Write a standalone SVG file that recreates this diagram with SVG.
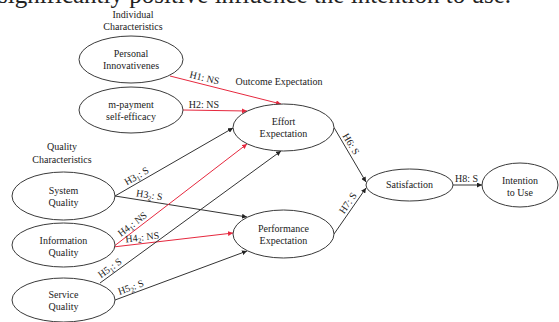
<svg xmlns="http://www.w3.org/2000/svg" width="559" height="322" viewBox="0 0 559 322">
  <style>
    text { font-family: "Liberation Serif", "Times New Roman", serif; fill: #222; }
    .node ellipse { fill: #fff; stroke: #3a3a3a; stroke-width: 1; }
    .node text { font-size: 10px; text-anchor: middle; }
    .head { font-size: 10px; text-anchor: middle; }
    .lbl { font-size: 10px; text-anchor: middle; }
    .sub { font-size: 7px; }
    .k { stroke: #333; stroke-width: 1; fill: none; marker-end: url(#arrK); }
    .r { stroke: #e6283e; stroke-width: 1; fill: none; marker-end: url(#arrR); }
    .top { font-size: 25px; }
  </style>
  <defs>
    <marker id="arrK" markerUnits="userSpaceOnUse" markerWidth="6" markerHeight="5" refX="5" refY="2.5" orient="auto">
      <path d="M0,0 L5,2.5 L0,5 z" fill="#222"/>
    </marker>
    <marker id="arrR" markerUnits="userSpaceOnUse" markerWidth="6" markerHeight="5" refX="5" refY="2.5" orient="auto">
      <path d="M0,0 L5,2.5 L0,5 z" fill="#e6283e"/>
    </marker>
  </defs>

  <rect width="559" height="322" fill="#fff"/>

  <!-- caption line running off the top edge -->
  <text class="top" x="-2" y="3">significantly positive influence the intention to use.</text>

  <!-- group headings -->
  <g id="headings">
    <text class="head" x="133" y="18">Individual</text>
    <text class="head" x="133" y="30">Characteristics</text>
    <text class="head" x="62" y="150">Quality</text>
    <text class="head" x="62" y="162.5">Characteristics</text>
    <text class="head" x="279" y="84.5">Outcome Expectation</text>
  </g>

  <!-- paths between constructs -->
  <g id="connectors">
    <line class="r" x1="170" y1="76" x2="281" y2="104"/>
    <line class="r" x1="183" y1="110" x2="247" y2="111"/>
    <line class="k" x1="115" y1="196" x2="233" y2="128"/>
    <line class="k" x1="115" y1="196" x2="247" y2="217"/>
    <line class="r" x1="113" y1="247" x2="247" y2="144"/>
    <line class="r" x1="113" y1="247" x2="233" y2="233"/>
    <line class="k" x1="100" y1="283" x2="281" y2="151"/>
    <line class="k" x1="115" y1="300" x2="247" y2="251"/>
    <line class="k" x1="334" y1="127.5" x2="366" y2="182"/>
    <line class="k" x1="334" y1="234" x2="366" y2="188"/>
    <line class="k" x1="453" y1="185" x2="482" y2="185"/>

    <g id="labels">
      <g transform="translate(203,84) rotate(13.7)"><text class="lbl" y="-3">H1: NS</text></g>
      <g transform="translate(204,110.5)"><text class="lbl" y="-3">H2: NS</text></g>
      <g transform="translate(139.7,181.5) rotate(-30.3)"><text class="lbl" y="-3">H3<tspan class="sub" dy="2">1</tspan><tspan dy="-2">: S</tspan></text></g>
      <g transform="translate(148.5,201.3) rotate(8.6)"><text class="lbl" y="-3">H3<tspan class="sub" dy="2">2</tspan><tspan dy="-2">: S</tspan></text></g>
      <g transform="translate(136.2,229.2) rotate(-37.5)"><text class="lbl" y="-3">H4<tspan class="sub" dy="2">1</tspan><tspan dy="-2">: NS</tspan></text></g>
      <g transform="translate(143,243.5) rotate(-6.7)"><text class="lbl" y="-3">H4<tspan class="sub" dy="2">2</tspan><tspan dy="-2">: NS</tspan></text></g>
      <g transform="translate(113.5,273.2) rotate(-36.1)"><text class="lbl" y="-3">H5<tspan class="sub" dy="2">1</tspan><tspan dy="-2">: S</tspan></text></g>
      <g transform="translate(133,293.3) rotate(-20.4)"><text class="lbl" y="-3">H5<tspan class="sub" dy="2">2</tspan><tspan dy="-2">: S</tspan></text></g>
      <g transform="translate(345.6,147.2) rotate(59.6)"><text class="lbl" y="-3">H6: S</text></g>
      <g transform="translate(353,206.7) rotate(-55.2)"><text class="lbl" y="-3">H7: S</text></g>
      <g transform="translate(466.5,185)"><text class="lbl" y="-3">H8: S</text></g>
    </g>
  </g>

  <!-- constructs -->
  <g id="personal-innovativeness" class="node">
    <ellipse cx="131" cy="59.5" rx="52" ry="23.5"/>
    <text x="131" y="57">Personal</text>
    <text x="131" y="69">Innovativenes</text>
  </g>
  <g id="mpayment-self-efficacy" class="node">
    <ellipse cx="131" cy="110" rx="52" ry="23"/>
    <text x="131" y="107.5">m-payment</text>
    <text x="131" y="119.5">self-efficacy</text>
  </g>
  <g id="system-quality" class="node">
    <ellipse cx="63.5" cy="196" rx="51.5" ry="24"/>
    <text x="63.5" y="194">System</text>
    <text x="63.5" y="206">Quality</text>
  </g>
  <g id="information-quality" class="node">
    <ellipse cx="63.5" cy="245" rx="51.5" ry="22"/>
    <text x="63.5" y="244">Information</text>
    <text x="63.5" y="256">Quality</text>
  </g>
  <g id="service-quality" class="node">
    <ellipse cx="63.5" cy="300" rx="51.5" ry="22"/>
    <text x="63.5" y="298">Service</text>
    <text x="63.5" y="310">Quality</text>
  </g>
  <g id="effort-expectation" class="node">
    <ellipse cx="283.5" cy="127.5" rx="50.5" ry="23.5"/>
    <text x="283.5" y="125">Effort</text>
    <text x="283.5" y="137">Expectation</text>
  </g>
  <g id="performance-expectation" class="node">
    <ellipse cx="283.5" cy="234" rx="50.5" ry="24"/>
    <text x="283.5" y="231.5">Performance</text>
    <text x="283.5" y="243.5">Expectation</text>
  </g>
  <g id="satisfaction" class="node">
    <ellipse cx="409.5" cy="185" rx="43.5" ry="16"/>
    <text x="409.5" y="188">Satisfaction</text>
  </g>
  <g id="intention-to-use" class="node">
    <ellipse cx="520" cy="185" rx="38" ry="22"/>
    <text x="520" y="184">Intention</text>
    <text x="520" y="196">to Use</text>
  </g>
</svg>
